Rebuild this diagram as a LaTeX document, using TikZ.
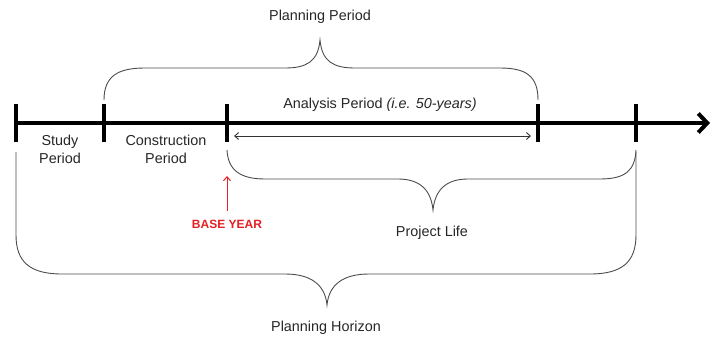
\documentclass[tikz,border=0pt]{standalone}
\usepackage{fontspec}
\setmainfont{Liberation Sans}
\usetikzlibrary{arrows.meta}
\definecolor{baseRed}{RGB}{228,32,36}
\begin{document}
\begin{tikzpicture}[x=1pt,y=-1pt,
  lbl/.style={font=\fontsize{14.4}{18}\selectfont, text=black!85, inner sep=0pt, align=center},
  brace/.style={draw=black!70, line width=0.9pt},
  tickmark/.style={line width=4pt},
  axisline/.style={line width=4pt, -{Straight Barb[length=9pt,width=19pt]}},
  thinarrow/.style={draw=black!80, line width=0.9pt, {Straight Barb[length=4pt,width=7pt]}-{Straight Barb[length=4pt,width=7pt]}},
  redarrow/.style={draw=baseRed, line width=1pt, -{Straight Barb[length=4pt,width=7pt]}},
]
\useasboundingbox (0,0) rectangle (712,337);
% axis and ticks
\coordinate (a0) at (16,123);
\coordinate (aend) at (710,123);
\coordinate (t1) at (16,123);
\coordinate (t2) at (104,123);
\coordinate (t3) at (227,123);
\coordinate (t4) at (538,123);
\coordinate (t5) at (636,123);
\draw[axisline] (a0) -- (aend);
\foreach \t in {t1,t2,t3,t4,t5}{
  \draw[tickmark] ([yshift=-19pt]\t) -- ([yshift=19pt]\t);
}
% labels on axis
\node[lbl] (study) at (60,149) {Study\\Period};
\node[lbl] (constr) at (166,149) {Construction\\Period};
\node[lbl] (analysis) at (380,105) {Analysis Period \textit{(i.e. 50-years)}};
% analysis double arrow
\coordinate (aa1) at (234,136);
\coordinate (aa2) at (531,136);
\draw[thinarrow] (aa1) -- (aa2);
% planning period brace (above)
\coordinate (pp1) at (104,100);
\coordinate (pp2) at (538,100);
\coordinate (ppc) at (320,40);
\draw[brace] (pp1) .. controls (104,76) and (118,68) .. (145,68) -- (285,68)
  .. controls (306,68) and (318,62) .. (ppc)
  .. controls (322,62) and (334,68) .. (355,68) -- (500,68)
  .. controls (526,68) and (538,76) .. (pp2);
\node[lbl] (pptext) at (320,17) {Planning Period};
% project life brace (below)
\coordinate (pl1) at (227,150);
\coordinate (pl2) at (636,150);
\coordinate (plc) at (433,210);
\draw[brace] (pl1) .. controls (228,170) and (240,179) .. (265,179) -- (398,179)
  .. controls (420,179) and (431,190) .. (plc)
  .. controls (435,190) and (446,179) .. (468,179) -- (600,179)
  .. controls (626,179) and (635,170) .. (pl2);
\node[lbl] (pltext) at (432,233) {Project Life};
% planning horizon brace
\coordinate (ph1) at (16,152);
\coordinate (ph2) at (636,152);
\coordinate (phc) at (327,305);
\draw[brace] (ph1) -- (16,235) .. controls (16,262) and (30,274) .. (62,274) -- (285,274)
  .. controls (310,274) and (325,284) .. (phc)
  .. controls (329,284) and (344,274) .. (369,274) -- (590,274)
  .. controls (622,274) and (636,262) .. (636,235) -- (ph2);
\node[lbl] (phtext) at (326,328) {Planning Horizon};
% base year
\node[font=\fontsize{12}{14}\selectfont\bfseries, text=baseRed, inner sep=0pt] (base) at (227,224) {BASE YEAR};
\coordinate (bt) at (227,176);
\draw[redarrow] (227,211) -- (bt);
\end{tikzpicture}
\end{document}
